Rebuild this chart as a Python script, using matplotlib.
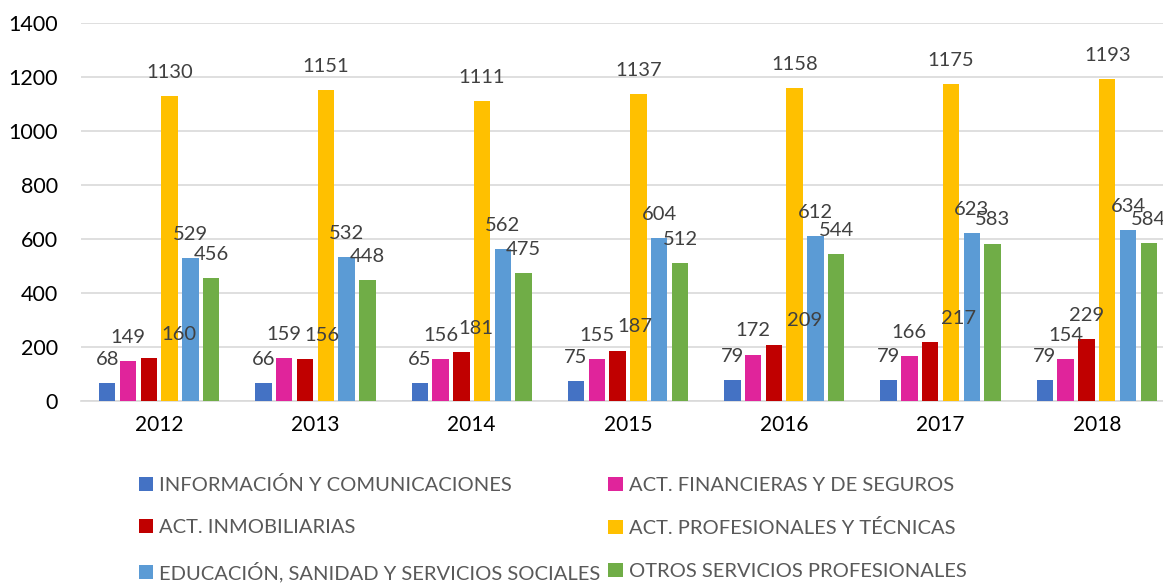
import matplotlib
matplotlib.use("Agg")
import matplotlib.pyplot as plt
import numpy as np

years = ["2012", "2013", "2014", "2015", "2016", "2017", "2018"]
series_names = [
    "INFORMACIÓN Y COMUNICACIONES",
    "ACT. FINANCIERAS Y DE SEGUROS",
    "ACT. INMOBILIARIAS",
    "ACT. PROFESIONALES Y TÉCNICAS",
    "EDUCACIÓN, SANIDAD Y SERVICIOS SOCIALES",
    "OTROS SERVICIOS PROFESIONALES",
]
informacion = [68, 66, 65, 75, 79, 79, 79]
financieras = [149, 159, 156, 155, 172, 166, 154]
inmobiliarias = [160, 156, 181, 187, 209, 217, 229]
profesionales = [1130, 1151, 1111, 1137, 1158, 1175, 1193]
educacion = [529, 532, 562, 604, 612, 623, 634]
otros = [456, 448, 475, 512, 544, 583, 584]
colors = ["#4472C4", "#E0249B", "#C00000", "#FFC000", "#5B9BD5", "#70AD47"]

# horizontal nudge (px) of the inmobiliarias labels, as in the original
red_label_dx = [30, 17, 15, 17, 31, 28, 0]

plt.rcParams['font.family'] = ['Lato', 'DejaVu Sans']

fig = plt.figure(figsize=(11.63, 5.85), dpi=100)
ax = fig.add_axes([81 / 1163, 1 - 401 / 585, 1094 / 1163, 378 / 585])

x = np.arange(len(years))
step = 0.133
width = 0.105
all_series = [informacion, financieras, inmobiliarias, profesionales, educacion, otros]
handles = []
for i, vals in enumerate(all_series):
    pos = x + (i - 2.5) * step
    b = ax.bar(pos, vals, width, color=colors[i], label=series_names[i], zorder=3)
    handles.append(b)
    for j, (p, v) in enumerate(zip(pos, vals)):
        dx = red_label_dx[j] * 0.72 if i == 2 else 0
        ax.annotate(str(v), (p, v), xytext=(dx, 17), textcoords="offset points",
                    ha="center", va="center", fontsize=14.5, color="#404040",
                    zorder=5)

ax.set_ylim(0, 1400)
ax.set_yticks(range(0, 1401, 200))
ax.set_xlim(-0.5, 6.5)
ax.set_xticks(x)
ax.set_xticklabels(years)
ax.tick_params(axis="both", length=0, colors="#000000")
ax.tick_params(axis="y", pad=16.5, labelsize=15.5)
ax.tick_params(axis="x", pad=10, labelsize=15)
ax.grid(axis="y", color="#D9D9D9", linewidth=1.2, zorder=0)
for s in ["top", "right", "left"]:
    ax.spines[s].set_visible(False)
ax.spines["bottom"].set_color("#D9D9D9")
ax.spines["bottom"].set_linewidth(1.2)

order = [0, 2, 4, 1, 3, 5]
leg = fig.legend([handles[k] for k in order], [series_names[k] for k in order],
                 ncol=2, loc="upper left", bbox_to_anchor=(139 / 1163, 1 - 476 / 585),
                 frameon=False, fontsize=14.5, handlelength=0.7, handleheight=0.7,
                 handletextpad=0.3, columnspacing=0.4, labelspacing=1.26,
                 borderaxespad=0, borderpad=0)
for t in leg.get_texts():
    t.set_color("#595959")

fig.savefig("out.png", dpi=100)
